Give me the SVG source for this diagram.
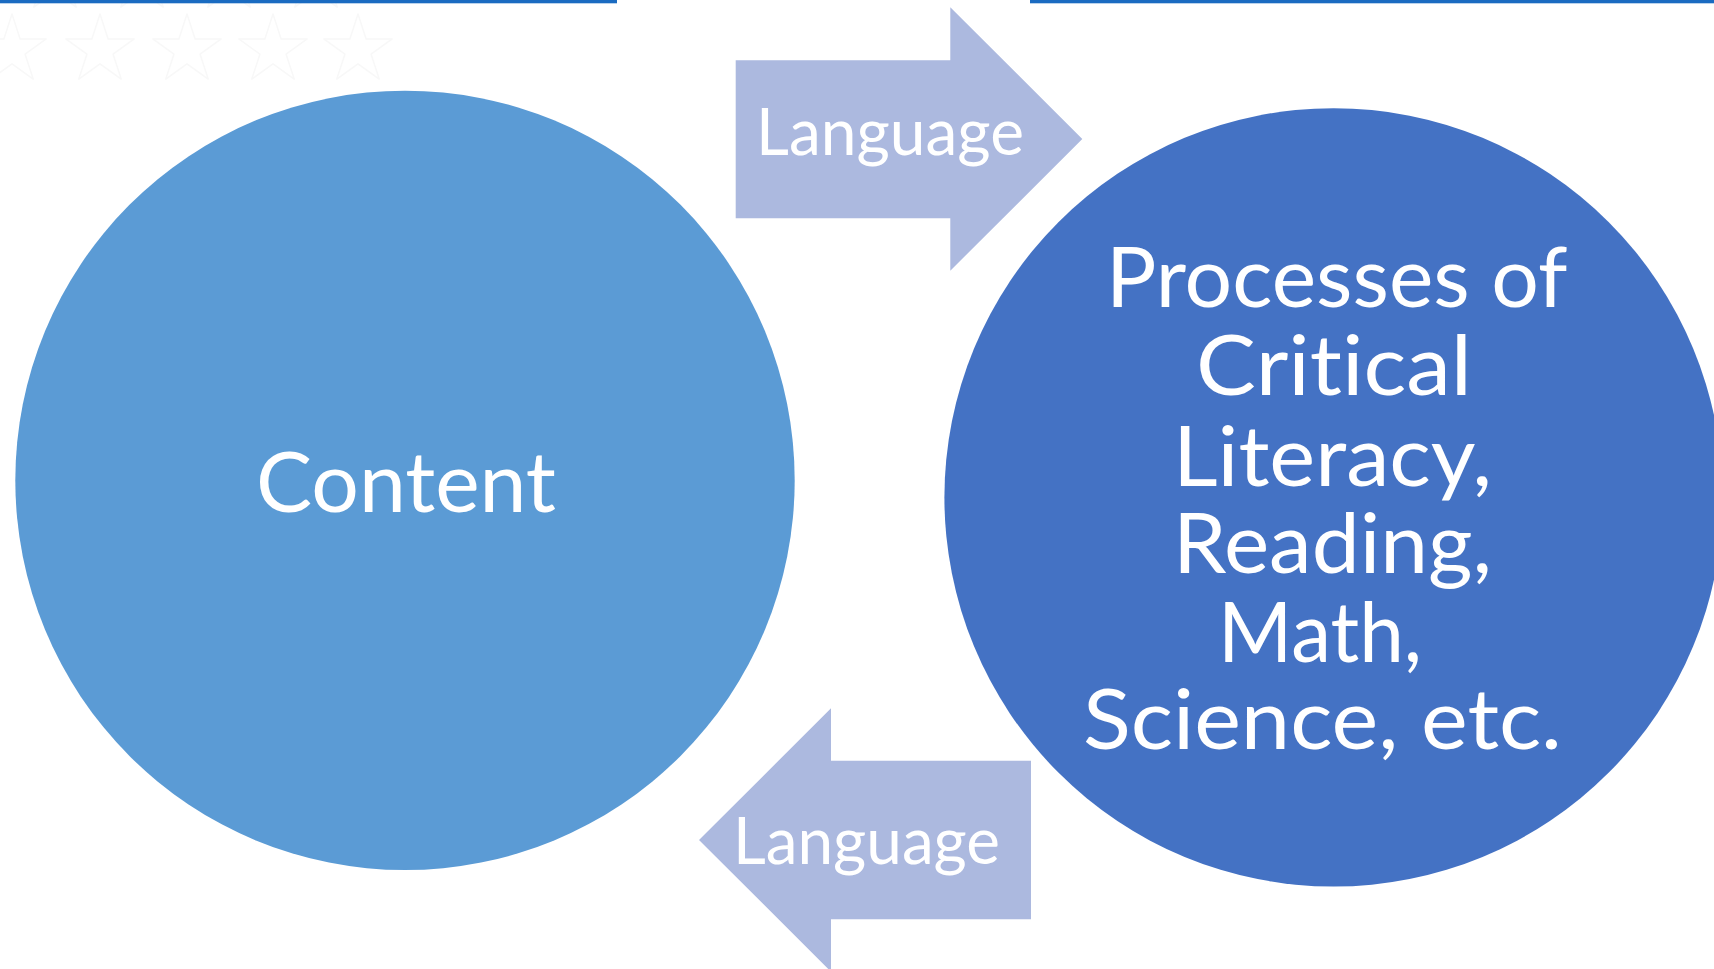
<svg xmlns="http://www.w3.org/2000/svg" xmlns:xlink="http://www.w3.org/1999/xlink" width="1714" height="969" viewBox="0 0 1714 969">
  <style>
    .lbl { font-family: Lato, "Open Sans", "Liberation Sans", sans-serif; fill: #FFFFFF; text-anchor: start; font-variant-ligatures: none; }
    .arrow { fill: #ACB9DF; }
    .star { fill: none; stroke: #F8F8F8; stroke-width: 1.5; stroke-linejoin: round; }
  </style>
  <defs>
    <polygon id="star" points="0,-36 8.1,-11.1 34.2,-11.1 13.1,4.2 21.2,29.1 0,13.8 -21.2,29.1 -13.1,4.2 -34.2,-11.1 -8.1,-11.1"/>
  </defs>
  <rect x="0" y="0" width="1714" height="969" fill="#FFFFFF"/>
  <g id="decoration">
    <g class="star">
      <use xlink:href="#star" x="55" y="-22"/>
      <use xlink:href="#star" x="142" y="-22"/>
      <use xlink:href="#star" x="229" y="-22"/>
      <use xlink:href="#star" x="316" y="-22"/>
      <use xlink:href="#star" x="12" y="50"/>
      <use xlink:href="#star" x="100" y="50"/>
      <use xlink:href="#star" x="187" y="50"/>
      <use xlink:href="#star" x="273" y="50"/>
      <use xlink:href="#star" x="358" y="50"/>
    </g>
    <rect x="0" y="0" width="617" height="3.3" fill="#1A6BC1"/>
    <rect x="1030" y="0" width="684" height="3.3" fill="#1A6BC1"/>
  </g>
  <g id="node-content">
    <circle cx="405" cy="480.4" r="389.7" fill="#5B9BD5"/>
    <text class="lbl" x="256" y="511.7" font-size="84" textLength="300" lengthAdjust="spacingAndGlyphs">Content</text>
  </g>
  <g id="node-processes">
    <circle cx="1333.6" cy="497.4" r="389.2" fill="#4472C4"/>
    <text class="lbl" font-size="84">
      <tspan x="1106" y="307.3" textLength="460" lengthAdjust="spacingAndGlyphs">Processes of</tspan>
      <tspan x="1196" y="395" textLength="276" lengthAdjust="spacingAndGlyphs">Critical</tspan>
      <tspan x="1173" y="486" textLength="319" lengthAdjust="spacingAndGlyphs">Literacy,</tspan>
      <tspan x="1173" y="573" textLength="319" lengthAdjust="spacingAndGlyphs">Reading,</tspan>
      <tspan x="1218" y="661.7" textLength="204" lengthAdjust="spacingAndGlyphs">Math,</tspan>
      <tspan x="1083" y="749" textLength="479" lengthAdjust="spacingAndGlyphs">Science, etc.</tspan>
    </text>
  </g>
  <g id="connectors">
    <g id="arrow-top">
      <polygon class="arrow" points="735.7,60.3 950.3,60.3 950.3,7.3 1082.3,139 950.3,270.7 950.3,218.3 735.7,218.3"/>
      <text class="lbl" x="756" y="155" font-size="65" textLength="268" lengthAdjust="spacingAndGlyphs">Language</text>
    </g>
    <g id="arrow-bottom">
      <polygon class="arrow" points="1031,760.7 831,760.7 831,708.3 699,840 831,971.7 831,919.3 1031,919.3"/>
      <text class="lbl" x="733" y="864" font-size="65" textLength="267" lengthAdjust="spacingAndGlyphs">Language</text>
    </g>
  </g>
</svg>
